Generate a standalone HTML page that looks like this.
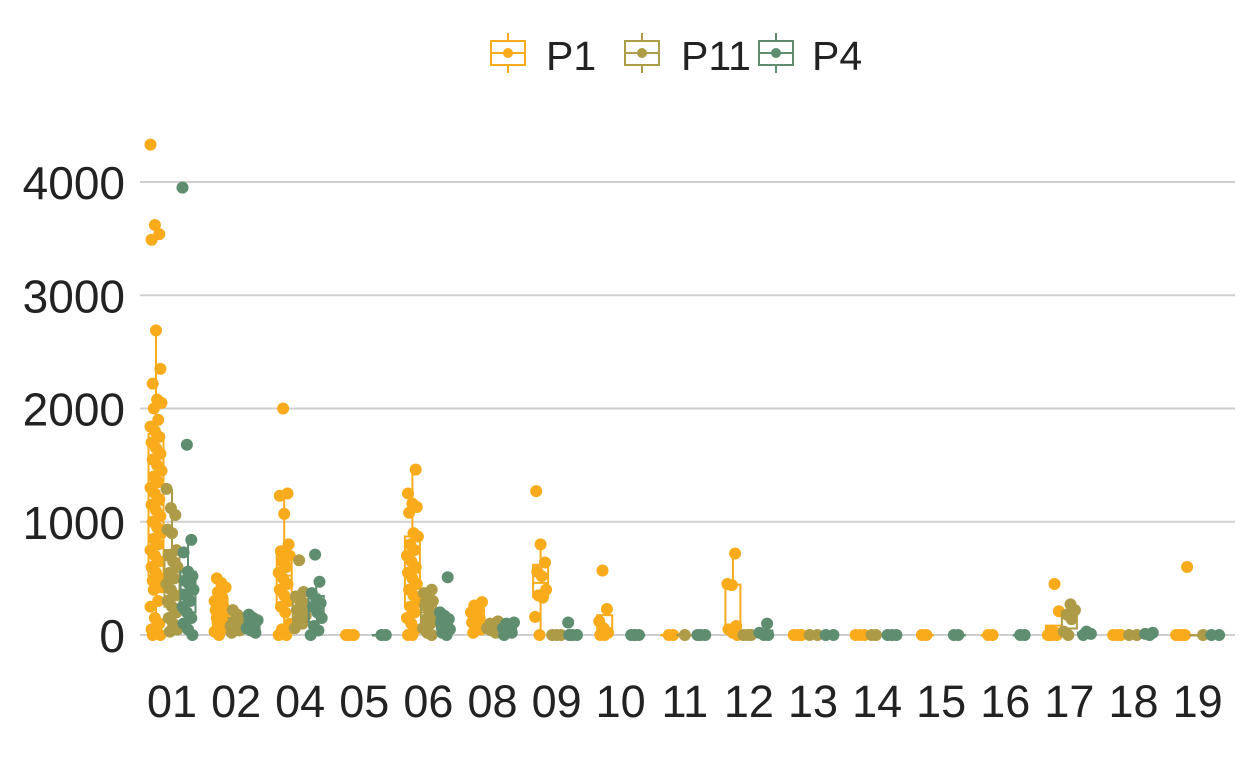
<!DOCTYPE html>
<html><head><meta charset="utf-8"><style>
body{margin:0;background:#fff;}
svg{display:block;font-family:"Liberation Sans",Arial,sans-serif;}
</style></head><body>
<svg id="chart" width="1248" height="768" viewBox="0 0 1248 768">
<g id="grid"></g>
<g id="yaxis"></g>
<g id="xaxis"></g>
<g id="marks"></g>
<g id="legend"></g>
</svg>
<script>
const categories = ["01","02","04","05","06","08","09","10","11","12","13","14","15","16","17","18","19"];
const seriesNames = ["P1","P11","P4"];
const seriesColors = ["#F9AB1C","#AE9B47","#5F8D70"];
const yTicks = [0,1000,2000,3000,4000];
const valsP1 = [
 [4330,3620,3540,3490,2690,2350,2220,2080,2050,2000,1900,1840,1800,1750,1700,1650,1600,1550,1500,1450,1400,1350,1300,1250,1200,1150,1100,1050,1000,950,900,850,800,750,700,650,600,550,500,480,450,420,400,300,250,150,100,50,20,0,0],
 [500,460,420,380,330,300,280,250,220,200,180,150,120,100,80,50,30,0],
 [2000,1250,1230,1070,800,740,720,700,650,600,550,500,450,400,350,300,250,200,100,50,0,0],
 [0,0,0],
 [1460,1250,1160,1130,1080,900,870,800,750,700,650,600,550,500,450,400,350,300,250,200,150,100,50,0,0],
 [290,260,230,200,170,140,110,80,50,20],
 [1270,800,640,560,520,400,350,330,160,0],
 [570,230,120,60,20,0,0],
 [0,0],
 [720,450,440,80,50,20,0],
 [0,0,0],[0,0,0],[0,0],[0,0],
 [450,210,40,20,0,0,0,0],
 [0,0,0],
 [600,0,0,0,0,0]
];
const valsP11 = [
 [1290,1120,1060,930,900,750,700,650,600,550,500,450,400,350,300,250,200,150,100,50,30],
 [220,180,150,120,100,80,60,40,20],
 [660,380,340,300,260,220,200,170,130,100,60],
 [],
 [400,370,340,300,260,220,180,140,100,60,20,0],
 [120,100,80,60,40,20],
 [0,0,0],
 [],
 [0],
 [0,0,0],
 [0,0],[0,0],[],[],
 [270,220,180,140,30,0],
 [0,0],
 [0]
];
const valsP4 = [
 [3950,1680,840,730,560,520,480,450,400,350,300,250,200,150,100,50,0],
 [180,150,130,100,80,60,40,20],
 [710,470,370,320,280,250,200,150,80,40,0],
 [0,0],
 [510,200,170,140,110,80,50,20,0],
 [110,100,80,60,40,20,0],
 [110,0,0,0],
 [0,0,0,0],
 [0,0,0],
 [100,20,0,0],
 [0,0],[0,0,0],[0,0],[0,0],
 [30,10,0],
 [20,10,0],
 [0,0]
];
const whiskerCapP1_01 = 2690;
const allVals = [valsP1, valsP11, valsP4];

const NS="http://www.w3.org/2000/svg";
const x0=172, step=64.1, dodge=[-16,0,16], bw=15;
const xScale = i => x0 + i*step;
const yScale = v => 635 - v*0.11325;
function mk(tag, attrs, parent){const e=document.createElementNS(NS,tag);for(const k in attrs)e.setAttribute(k,attrs[k]);parent.appendChild(e);return e;}
function quant(s,p){if(!s.length)return 0;const h=(s.length-1)*p,lo=Math.floor(h),hi=Math.ceil(h);return s[lo]+(s[hi]-s[lo])*(h-lo);}

const grid=document.getElementById('grid'), yax=document.getElementById('yaxis'), xax=document.getElementById('xaxis'), marks=document.getElementById('marks'), leg=document.getElementById('legend');
yTicks.forEach(t=>{
  const l=mk('line',{x1:140,x2:1235,y1:yScale(t),y2:yScale(t),stroke:'#cfcfcf','stroke-width':2},grid);
  
  
  const tx=mk('text',{x:125,y:yScale(t)+17,'text-anchor':'end','font-size':46,fill:'#222'},yax);
  tx.textContent=t;
  
  
});
categories.forEach((c,i)=>{
  const tx=mk('text',{x:xScale(i),y:717,'text-anchor':'middle','font-size':45,fill:'#222'},xax);
  tx.textContent=c;
  
  
});
allVals.forEach((series,si)=>{
  const col=seriesColors[si];
  series.forEach((vals,ci)=>{
    if(!vals.length)return;
    const cx=xScale(ci)+dodge[si];
    const g=mk('g',{},marks);
    
    
    const s=[...vals].sort((a,b)=>a-b);
    const q1=quant(s,.25),md=quant(s,.5),q3=quant(s,.75),iqr=q3-q1;
    let fence=q3+1.5*iqr;
    if(si===0&&ci===0) fence=Math.min(fence,whiskerCapP1_01);
    const lo=Math.min(...s.filter(v=>v>=q1-1.5*iqr)),hi=Math.max(...s.filter(v=>v<=fence));
    mk('line',{x1:cx,x2:cx,y1:yScale(hi),y2:yScale(q3),stroke:col,'stroke-width':2},g);
    mk('line',{x1:cx,x2:cx,y1:yScale(q1),y2:yScale(lo),stroke:col,'stroke-width':2},g);
    mk('rect',{x:cx-bw/2,y:yScale(q3),width:bw,height:Math.max(0.5,yScale(q1)-yScale(q3)),fill:'none',stroke:col,'stroke-width':2},g);
    mk('line',{x1:cx-bw/2,x2:cx+bw/2,y1:yScale(md),y2:yScale(md),stroke:col,'stroke-width':2},g);
    vals.forEach((v,j)=>{
      const jx=(((j*37+ci*13)%11)-5)*1.1;
      const p=mk('circle',{cx:cx+jx,cy:yScale(v),r:6,fill:col},g);
      
      
    });
  });
});
const legX=[489,623,757], legTX=[546,681,812];
seriesNames.forEach((n,i)=>{
  const g=mk('g',{},leg);
  
  
  const c=seriesColors[i], x=legX[i];
  mk('line',{x1:x+19,x2:x+19,y1:33,y2:73,stroke:c,'stroke-width':2},g);
  mk('rect',{x:x+2,y:41,width:34,height:24,fill:'#fff',stroke:c,'stroke-width':2},g);
  mk('line',{x1:x+2,x2:x+36,y1:53,y2:53,stroke:c,'stroke-width':2},g);
  mk('circle',{cx:x+19,cy:53,r:5,fill:c},g);
  const t=mk('text',{x:legTX[i],y:70,'font-size':41,fill:'#222'},g);
  t.textContent=n;
});
</script>
</body></html>
